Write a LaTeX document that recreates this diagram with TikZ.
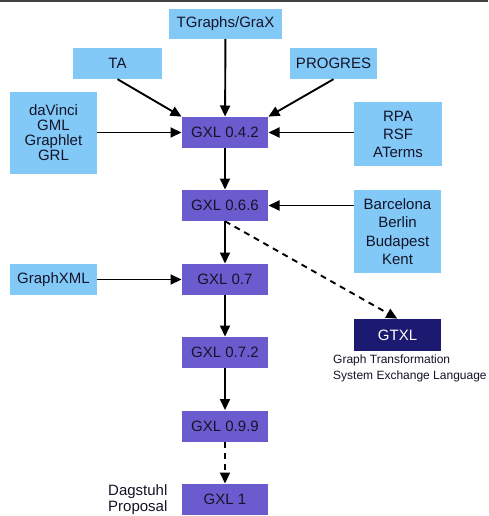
\documentclass[tikz,border=0pt]{standalone}
\usepackage{fontspec}
\setmainfont{Liberation Sans}
\usetikzlibrary{arrows.meta}
\definecolor{lblue}{RGB}{130,201,248}
\definecolor{gpurple}{RGB}{106,92,206}
\definecolor{gnavy}{RGB}{28,26,112}
\definecolor{gtext}{RGB}{20,20,40}
\tikzset{
  box/.style={rectangle, inner sep=0pt, align=center, font=\fontsize{15}{15}\selectfont, text=gtext},
  srcbox/.style={box, fill=lblue},
  gxlbox/.style={box, fill=gpurple, minimum width=86pt, minimum height=31pt},
  arr/.style={line width=1.9pt, -{Triangle[length=11pt,width=10pt]}, shorten >=0.3pt},
  darr/.style={arr, dash pattern=on 6pt off 5pt},
  note/.style={inner sep=0pt, align=left, text=gtext}
}
\begin{document}
\begin{tikzpicture}[x=1pt,y=-1pt]
\useasboundingbox (0,0) rectangle (488,516);
\fill[white] (0,0) rectangle (488,516);
\draw[line width=1.6pt, black!75] (0,0.8) -- (488,0.8);

\node[srcbox, minimum width=113pt, minimum height=30pt] (tg) at (225.5,24) {TGraphs/GraX};
\node[srcbox, minimum width=89pt, minimum height=31pt] (ta) at (117.5,63.5) {TA};
\node[srcbox, minimum width=87pt, minimum height=31pt] (pr) at (333.5,63.5) {PROGRES};
\node[srcbox, minimum width=87pt, minimum height=82pt, font=\fontsize{15}{15}\selectfont] (dv) at (53.5,133) {daVinci\\GML\\Graphlet\\GRL};
\node[srcbox, minimum width=88pt, minimum height=64pt, font=\fontsize{15}{18}\selectfont] (rpa) at (398,134) {RPA\\RSF\\ATerms};
\node[srcbox, minimum width=87pt, minimum height=83pt, font=\fontsize{15}{18.5}\selectfont] (bar) at (397.5,231.5) {Barcelona\\Berlin\\Budapest\\Kent};
\node[srcbox, minimum width=87pt, minimum height=31pt] (gx) at (53.5,279.5) {GraphXML};

\node[gxlbox] (g042) at (225,132.5) {GXL 0.4.2};
\node[gxlbox] (g066) at (225,205.5) {GXL 0.6.6};
\node[gxlbox] (g07) at (225,279.5) {GXL 0.7};
\node[gxlbox] (g072) at (225,352.5) {GXL 0.7.2};
\node[gxlbox] (g099) at (225,426) {GXL 0.9.9};
\node[gxlbox] (g1) at (225,499.5) {GXL 1};

\node[box, fill=gnavy, text=white, minimum width=87pt, minimum height=32pt] (gtxl) at (397.5,335) {GTXL};

\node[note, anchor=north west, font=\fontsize{12}{16}\selectfont] (cap) at (333,355) {Graph Transformation\\System Exchange Language};
\node[note, anchor=west, font=\fontsize{15}{16}\selectfont] (dag) at (108,500) {Dagstuhl\\Proposal};

\draw[arr] (tg) -- (g042);
\draw[arr] (ta.south) -- (g042.north west);
\draw[arr] (pr.south) -- (g042.north east);
\draw[arr] (dv.east |- g042) -- (g042);
\draw[arr] (rpa.west |- g042) -- (g042);
\draw[arr] (g042) -- (g066);
\draw[arr] (bar.west |- g066) -- (g066);
\draw[arr] (g066) -- (g07);
\draw[darr] (g066.south) -- (gtxl.north);
\draw[arr] (gx) -- (g07);
\draw[arr] (g07) -- (g072);
\draw[arr] (g072) -- (g099);
\draw[darr] (g099) -- (g1);
\end{tikzpicture}
\end{document}
